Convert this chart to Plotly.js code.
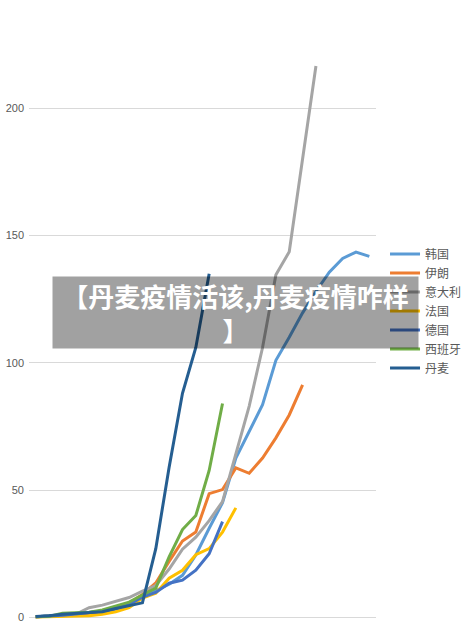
<!DOCTYPE html>
<html>
<head>
<meta charset="utf-8">
<script src="https://cdn.plot.ly/plotly-3.0.1.min.js"></script>
<style>
  html, body { margin: 0; padding: 0; background: #fff; }
  #chart { width: 473px; height: 627px; }
</style>
</head>
<body>
<div id="chart"></div>
<script>
// day index along the x axis (no labels shown in the picture)
var days = []
for (var d = 0; d < 26; d++) days.push(d)

var countries = ['韩国', '伊朗', '意大利', '法国', '德国', '西班牙', '丹麦']
var colors = ['#5B9BD5', '#ED7D31', '#A5A5A5', '#FFC000', '#4472C4', '#70AD47', '#255E91']

var korea   = [0.2, 0.4, 0.8, 1.2, 1.8, 2.5, 3.5, 5, 8, 10.5, 13, 16.5, 24.5, 35, 45, 62.6, 73, 83.5, 101, 110, 119.6, 128, 135.6, 141, 143.5, 141.8]
var iran    = [0.2, 0.3, 0.6, 1, 1.5, 2.3, 3.5, 5.5, 9, 13.5, 22, 30, 33.5, 48.6, 50.2, 58.7, 56.6, 62.6, 70.5, 79.5, 91.3]
var italy   = [0.2, 0.4, 0.8, 1.2, 3.8, 4.8, 6.3, 7.8, 10.3, 12.5, 19, 26.8, 31.5, 38, 45.5, 64.6, 83, 106, 134.6, 143.6, 180, 216.6]
var france  = [0.1, 0.2, 0.3, 0.4, 0.6, 1.2, 2.2, 3.8, 7.6, 9.5, 15.4, 18.5, 24.6, 27, 33.5, 43]
var germany = [0.2, 0.4, 0.8, 1.3, 1.8, 2.5, 3.5, 5, 8, 9.8, 13.4, 14.6, 18.5, 25, 37.6]
var spain   = [0.2, 0.4, 1.6, 1.8, 2, 2.9, 4.3, 6, 8.8, 11.5, 23.8, 34.5, 40, 57.7, 84]
var denmark = [0.3, 0.6, 1.2, 1.6, 1.8, 2.2, 3.5, 4.7, 5.7, 27, 59, 88, 106, 135]

var yTicks = [0, 50, 100, 150, 200]
var bannerText = '【丹麦疫情活该,丹麦疫情咋样<br>】'

var series = [korea, iran, italy, france, germany, spain, denmark]

var data = series.map(function(vals, i) {
  return {
    x: days.slice(0, vals.length),
    y: vals,
    name: countries[i],
    mode: 'lines',
    type: 'scatter',
    line: {color: colors[i], width: 3},
    hoverinfo: 'skip'
  }
})

var layout = {
  width: 473,
  height: 627,
  margin: {t: 0, r: 97, b: 2, l: 29},
  paper_bgcolor: '#fff',
  plot_bgcolor: '#fff',
  showlegend: true,
  xaxis: {
    range: [-0.5, 25.5],
    showticklabels: false,
    showgrid: false,
    zeroline: false,
    showline: false,
    ticks: ''
  },
  yaxis: {
    range: [-3.0, 242.5],
    tickvals: yTicks,
    ticktext: yTicks.map(String),
    showgrid: true,
    gridcolor: '#D9D9D9',
    gridwidth: 1,
    zeroline: false,
    showline: false,
    ticks: '',
    ticklabelstandoff: 4,
    tickfont: {family: 'Liberation Sans, Arial, sans-serif', size: 11, color: '#595959'}
  },
  legend: {
    x: 1.026,
    xanchor: 'left',
    y: 0.617,
    yanchor: 'top',
    bgcolor: 'rgba(0,0,0,0)',
    font: {family: 'Noto Sans CJK SC, sans-serif', size: 12, color: '#595959'},
    tracegroupgap: 0
  },
  annotations: [{
    xref: 'paper',
    yref: 'paper',
    x: 0.595,
    y: 0.5,
    xanchor: 'center',
    yanchor: 'middle',
    showarrow: false,
    width: 365,
    height: 71,
    borderpad: 0,
    bgcolor: 'rgba(0,0,0,0.37)',
    align: 'center',
    text: '<b>' + bannerText + '</b>',
    font: {family: 'Noto Sans CJK SC, sans-serif', size: 26, color: '#ffffff'}
  }]
}

Plotly.newPlot('chart', data, layout, {displayModeBar: false, staticPlot: true})
</script>
</body>
</html>
